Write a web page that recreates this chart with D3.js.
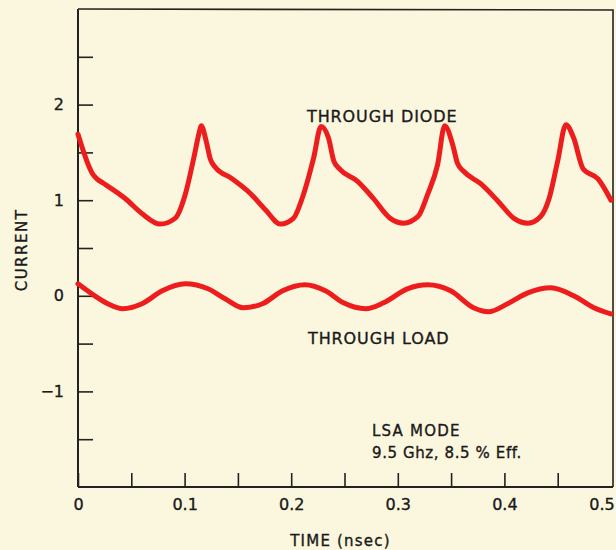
<!DOCTYPE html>
<html>
<head>
<meta charset="utf-8">
<script src="https://cdn.jsdelivr.net/npm/d3@7"></script>
<style>
  html, body { margin: 0; padding: 0; background: #fbf7de; }
  svg { display: block; }
  text { font-family: "DejaVu Sans", sans-serif; fill: #1a1a1a; stroke: #1a1a1a; stroke-width: 0.35px; }
</style>
</head>
<body>
<script>
// ---- data ----
const diodeTime = [0, 0.014, 0.018, 0.0235, 0.044, 0.060, 0.077, 0.091, 0.1006, 0.108, 0.1147, 0.1156, 0.1203, 0.1241, 0.1288, 0.1438, 0.1617, 0.1758, 0.190, 0.202, 0.2115, 0.221, 0.228, 0.235, 0.240, 0.246, 0.262, 0.277, 0.293, 0.3055, 0.319, 0.328, 0.3374, 0.344, 0.3515, 0.356, 0.362, 0.378, 0.394, 0.409, 0.422, 0.434, 0.442, 0.450, 0.4577, 0.465, 0.4737, 0.488, 0.5];
const diodeCurrent = [1.69, 1.27, 1.22, 1.18, 1.02, 0.86, 0.75, 0.81, 1.06, 1.41, 1.75, 1.78, 1.615, 1.43, 1.344, 1.23, 1.07, 0.90, 0.75, 0.81, 1.06, 1.44, 1.77, 1.65, 1.41, 1.32, 1.20, 1.02, 0.81, 0.76, 0.83, 1.06, 1.375, 1.78, 1.58, 1.385, 1.30, 1.17, 0.99, 0.81, 0.76, 0.83, 1.02, 1.41, 1.79, 1.65, 1.33, 1.22, 1.00];

const loadTime = [0, 0.013, 0.028, 0.042, 0.060, 0.079, 0.1006, 0.122, 0.138, 0.155, 0.173, 0.192, 0.213, 0.232, 0.249, 0.270, 0.2867, 0.309, 0.328, 0.3496, 0.371, 0.385, 0.403, 0.422, 0.4436, 0.465, 0.484, 0.5];
const loadCurrent = [0.125, 0.02, -0.083, -0.135, -0.083, 0.052, 0.125, 0.073, -0.031, -0.125, -0.083, 0.052, 0.115, 0.052, -0.073, -0.135, -0.073, 0.073, 0.115, 0.052, -0.125, -0.167, -0.083, 0.031, 0.083, 0, -0.125, -0.19];

const xTicks = [0, 0.05, 0.1, 0.15, 0.2, 0.25, 0.3, 0.35, 0.4, 0.45];
const xTickLabels = ["0", "", "0.1", "", "0.2", "", "0.3", "", "0.4", ""];
const xEndLabel = "0.5";
const yTicks = [-1.5, -1, -0.5, 0, 0.5, 1, 1.5, 2, 2.5];
const yTickLabels = ["", "\u22121", "", "0", "", "1", "", "2", ""];

const xTitle = "TIME (nsec)";
const yTitle = "CURRENT";
const diodeLabel = "THROUGH DIODE";
const loadLabel = "THROUGH LOAD";
const noteLines = ["LSA MODE", "9.5 Ghz, 8.5 % Eff."];

// ---- layout ----
const W = 616, H = 550;
const mLeft = 78, mRight = 611, mTop = 9, mBottom = 487;

const svg = d3.select("body").append("svg").attr("width", W).attr("height", H);
svg.append("rect").attr("width", W).attr("height", H).attr("fill", "#fbf7de");

const x = d3.scaleLinear().domain([0, 0.5]).range([mLeft, mRight]);
const y = d3.scaleLinear().domain([-2, 3]).range([mBottom, mTop]);

// frame (top and right)
svg.append("path")
  .attr("d", `M${mLeft},${mTop}L${mRight + 2},${mTop + 1}L${mRight + 2},${mBottom}`)
  .attr("fill", "none").attr("stroke", "#222").attr("stroke-width", 1.6);

// axes
const xAxis = d3.axisBottom(x).tickValues(xTicks)
  .tickFormat((d, i) => xTickLabels[i]).tickSizeInner(-14).tickSizeOuter(0).tickPadding(12);
const gx = svg.append("g").attr("transform", `translate(0,${mBottom})`).call(xAxis);
gx.append("text").attr("x", x(0.5) - 9).attr("y", 12).attr("dy", "0.71em")
  .attr("text-anchor", "middle").text(xEndLabel);

const yAxis = d3.axisLeft(y).tickValues(yTicks)
  .tickFormat((d, i) => yTickLabels[i]).tickSizeInner(-15).tickSizeOuter(0).tickPadding(14);
const gy = svg.append("g").attr("transform", `translate(${mLeft},0)`).call(yAxis);

[gx, gy].forEach(g => {
  g.select(".domain").attr("stroke", "#222").attr("stroke-width", 2);
  g.selectAll(".tick line").attr("stroke", "#222").attr("stroke-width", 1.6);
  g.selectAll("text").attr("font-size", 16).attr("fill", "#1a1a1a")
    .style("font-family", "DejaVu Sans, sans-serif");
});
gy.select(".domain").attr("d", `M0,${mBottom}V${mTop}`);
gx.select(".domain").attr("d", `M${mLeft},0H${mRight + 2}`);

// curves
const line = d3.line().x(d => x(d[0])).y(d => y(d[1])).curve(d3.curveMonotoneX);
const red = "#ee1d1d";
svg.append("path").datum(d3.zip(diodeTime, diodeCurrent)).attr("d", line)
  .attr("fill", "none").attr("stroke", red).attr("stroke-width", 5)
  .attr("stroke-linejoin", "round").attr("stroke-linecap", "round");
svg.append("path").datum(d3.zip(loadTime, loadCurrent)).attr("d", line)
  .attr("fill", "none").attr("stroke", red).attr("stroke-width", 5)
  .attr("stroke-linejoin", "round").attr("stroke-linecap", "round");

// titles
svg.append("text").attr("x", x(0.25) - 4).attr("y", 546).attr("text-anchor", "middle")
  .attr("font-size", 15).attr("letter-spacing", 1.2).text(xTitle);
svg.append("text").attr("transform", "translate(27,250) rotate(-90)").attr("text-anchor", "middle")
  .attr("font-size", 15).attr("letter-spacing", 1.5).text(yTitle);

// annotations
svg.append("text").attr("x", 307).attr("y", 122).attr("font-size", 16)
  .attr("letter-spacing", 0.9).text(diodeLabel);
svg.append("text").attr("x", 308).attr("y", 344).attr("font-size", 16)
  .attr("letter-spacing", 0.9).text(loadLabel);
svg.append("text").attr("x", 372).attr("y", 436).attr("font-size", 15)
  .attr("letter-spacing", 1.2).text(noteLines[0]);
svg.append("text").attr("x", 372).attr("y", 458).attr("font-size", 15)
  .attr("letter-spacing", 0.6).text(noteLines[1]);
</script>
</body>
</html>
